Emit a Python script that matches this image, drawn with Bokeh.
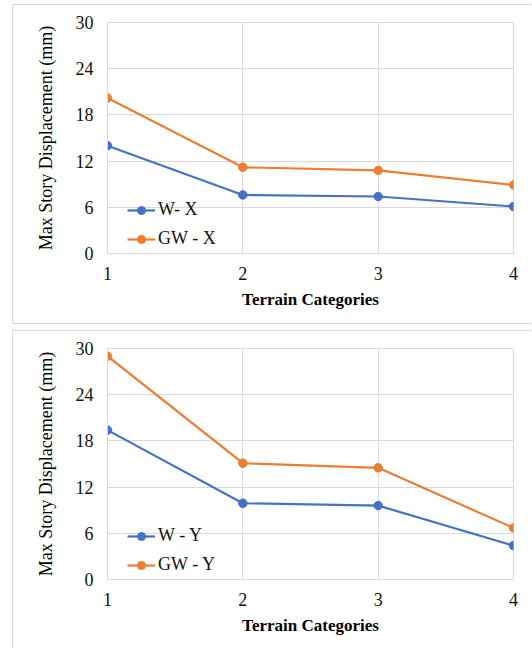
from bokeh.plotting import figure
from bokeh.layouts import column
from bokeh.models import Range1d, FixedTicker, Legend, LegendItem
from bokeh.embed import file_html
from bokeh.resources import INLINE

# Terrain categories on the x axis
categories = [1, 2, 3, 4]
y_ticks = [0, 6, 12, 18, 24, 30]

# Max story displacement (mm), X direction
w_x = [14.0, 7.6, 7.4, 6.1]
gw_x = [20.2, 11.2, 10.8, 8.9]

# Max story displacement (mm), Y direction
w_y = [19.4, 9.9, 9.6, 4.4]
gw_y = [29.0, 15.1, 14.5, 6.7]

BLUE = "#4472C4"
ORANGE = "#ED7D31"
GRID = "#D9D9D9"
FONT = "Liberation Serif"


def make_panel(w_vals, gw_vals, w_label, gw_label, height, bottom_border, margin, min_bottom):
    p = figure(
        width=519, height=height,
        x_range=Range1d(1, 4), y_range=Range1d(0, 30),
        output_backend="svg", toolbar_location=None,
        min_border_left=94, min_border_right=19,
        min_border_top=17, min_border_bottom=min_bottom,
        outline_line_color=GRID, outline_line_width=1,
        background_fill_color="white", border_fill_color="white",
        margin=margin,
    )
    styles = {"border-top": "1px solid #D9D9D9", "border-left": "1px solid #D9D9D9"}
    if bottom_border:
        styles["border-bottom"] = "1px solid #D9D9D9"
    p.styles = styles

    p.xaxis.ticker = FixedTicker(ticks=categories)
    p.yaxis.ticker = FixedTicker(ticks=y_ticks)
    for ax in (p.xaxis[0], p.yaxis[0]):
        ax.major_tick_line_color = None
        ax.minor_tick_line_color = None
        ax.axis_line_color = GRID
        ax.major_label_text_font = FONT
        ax.major_label_text_font_size = "18px"
        ax.major_label_text_color = "#111111"
        ax.major_label_standoff = 8
        ax.axis_label_text_font = FONT
        ax.axis_label_text_color = "#000000"
    p.xaxis.major_label_standoff = 7
    p.xaxis.axis_label = "Terrain Categories"
    p.xaxis.axis_label_text_font_style = "bold"
    p.xaxis.axis_label_text_font_size = "17px"
    p.xaxis.axis_label_standoff = 7
    p.yaxis.axis_label = "Max Story Displacement (mm)"
    p.yaxis.axis_label_text_font_style = "normal"
    p.yaxis.axis_label_text_font_size = "18px"
    p.yaxis.axis_label_standoff = 17

    p.xgrid.grid_line_color = GRID
    p.ygrid.grid_line_color = GRID

    r1 = p.line(categories, w_vals, color=BLUE, line_width=2.2)
    c1 = p.scatter(categories, w_vals, size=8.5, color=BLUE)
    r2 = p.line(categories, gw_vals, color=ORANGE, line_width=2.2)
    c2 = p.scatter(categories, gw_vals, size=8.5, color=ORANGE)

    legend = Legend(
        items=[LegendItem(label=w_label, renderers=[r1, c1]),
               LegendItem(label=gw_label, renderers=[r2, c2])],
        location=(20, 4),
        border_line_color=None, background_fill_alpha=0,
        glyph_width=28, glyph_height=20, label_height=20,
        spacing=8, padding=0, margin=0, label_standoff=3,
        label_text_font=FONT, label_text_font_size="18px",
        label_text_color="#111111",
    )
    p.add_layout(legend)
    return p


top = make_panel(w_x, gw_x, "W- X", "GW - X", 320, True, (4, 0, 0, 12), 72)
bottom = make_panel(w_y, gw_y, "W - Y", "GW - Y", 318, False, (6, 0, 0, 12), 70)

layout = column(top, bottom, spacing=0)
open("out.html", "w").write(file_html(layout, INLINE))
